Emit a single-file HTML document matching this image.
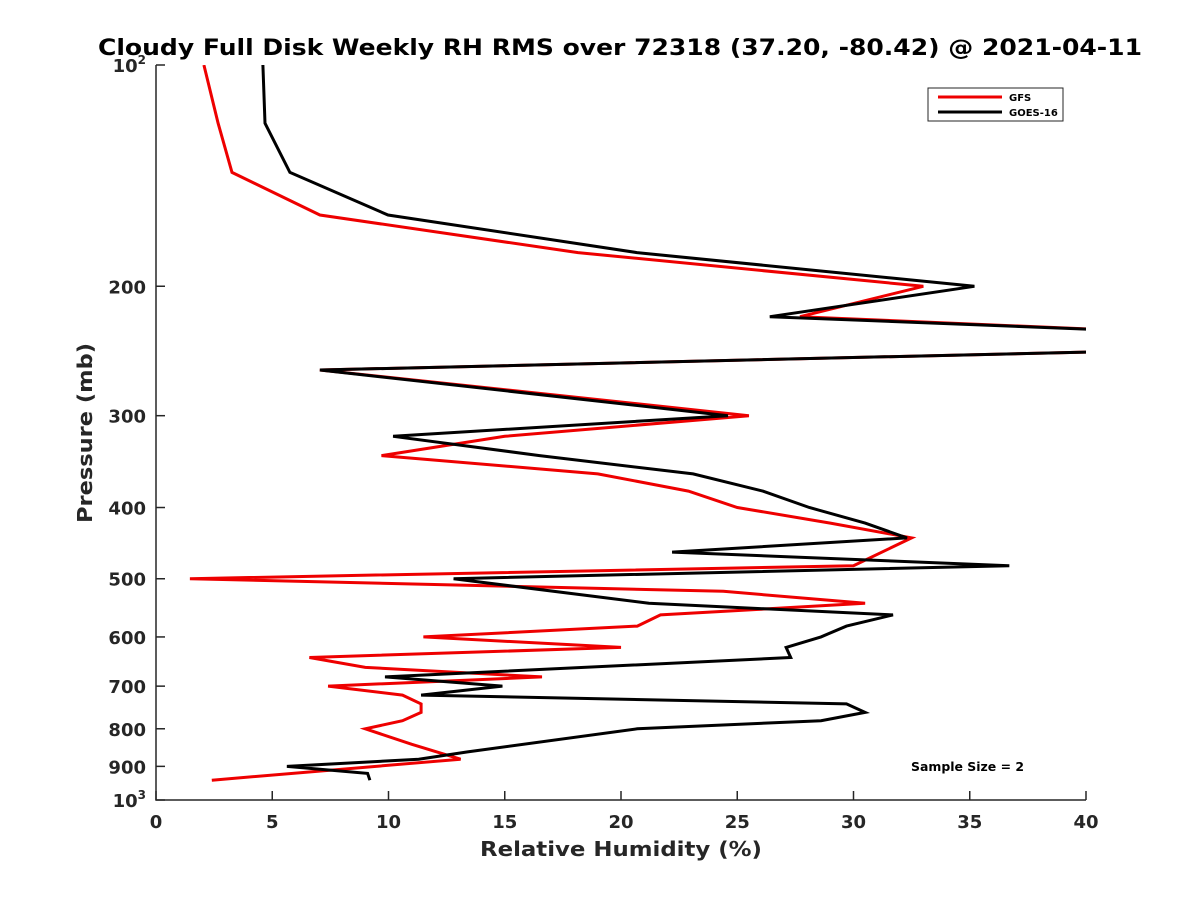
<!DOCTYPE html>
<html><head><meta charset="utf-8"><style>
body{margin:0;background:#fff}
svg{display:block;font-family:"DejaVu Sans","Liberation Sans",sans-serif}
</style></head><body>
<svg id="chart" width="1200" height="900">
<rect width="1200" height="900" fill="#fff"/>
<text x="98" y="55" textLength="1044" lengthAdjust="spacingAndGlyphs" font-size="22" font-weight="bold" fill="#000">Cloudy Full Disk Weekly RH RMS over 72318 (37.20, -80.42) @ 2021-04-11</text>
<defs><clipPath id="plotclip"><rect x="156" y="65" width="930" height="735"/></clipPath></defs>
<g id="grid"></g>
<g id="series" clip-path="url(#plotclip)"></g>
<text x="480" y="856" textLength="282" lengthAdjust="spacingAndGlyphs" font-size="20" font-weight="bold" fill="#262626">Relative Humidity (%)</text>
<text transform="translate(92,523) rotate(-90)" textLength="180" lengthAdjust="spacingAndGlyphs" font-size="20" font-weight="bold" fill="#262626">Pressure (mb)</text>
<g>
<rect x="928" y="88" width="135" height="33" fill="#fff" stroke="#262626" stroke-width="1"/>
<line x1="938" y1="97" x2="1002" y2="97" stroke="#e00" stroke-width="3"/>
<text x="1009" y="101" font-size="10" font-weight="bold" fill="#000">GFS</text>
<line x1="938" y1="112" x2="1002" y2="112" stroke="#000" stroke-width="3"/>
<text x="1009" y="116" font-size="10" font-weight="bold" fill="#000">GOES-16</text>
</g>
<text x="911" y="771" textLength="113" lengthAdjust="spacingAndGlyphs" font-size="12" font-weight="bold" fill="#000">Sample Size = 2</text>
</svg>
<script>
const xTicks=[0,5,10,15,20,25,30,35,40];
const yTicks=[100,200,300,400,500,600,700,800,900,1000];
const gfsP=[100,120,140,160,180,200,220,230,245,260,300,320,340,360,380,400,420,440,480,500,520,540,560,580,600,620,640,660,680,700,720,740,760,780,800,840,880,940];
const gfsRH=[2.06,2.67,3.27,7.05,18.15,33.0,27.7,42,42,7.05,25.5,15.0,9.7,19.0,22.9,25.0,29.0,32.5,30.0,1.46,24.4,30.5,21.7,20.7,11.5,20.0,6.6,9.0,16.6,7.4,10.6,11.4,11.4,10.6,9.0,11.0,13.1,2.4];
const goesP=[100,120,140,160,180,200,220,230,245,260,300,320,340,360,380,400,420,440,460,480,500,540,560,580,600,620,640,680,700,720,740,760,780,800,860,880,900,920,940];
const goesRH=[4.6,4.69,5.76,9.98,20.69,35.2,26.4,42,42,7.05,24.6,10.2,16.5,23.1,26.1,28.1,30.5,32.3,22.2,36.7,12.8,21.2,31.7,29.7,28.6,27.1,27.3,9.85,14.9,11.4,29.7,30.5,28.6,20.7,13.4,11.3,5.63,9.1,9.2];
const L=156,R=1086,T=65,B=800;
const xs=v=>L+(v-0)/40*(R-L);
const ys=p=>T+Math.log10(p/100)*(B-T);
const NS="http://www.w3.org/2000/svg";
function mk(tag,attrs,parent){const e=document.createElementNS(NS,tag);for(const k in attrs)e.setAttribute(k,attrs[k]);parent.appendChild(e);return e;}
const g=document.getElementById('grid');
const ax=mk('path',{d:`M${L},${T}V${B}H${R}`,fill:'none',stroke:'#262626','stroke-width':1.5},g);


xTicks.forEach(v=>{const x=xs(v);
 const t=mk('line',{x1:x,x2:x,y1:B,y2:B-9,stroke:'#262626','stroke-width':1.5},g);
 
 
 const l=mk('text',{x:x,y:B+28,'text-anchor':'middle','font-size':18,'font-weight':'bold',fill:'#262626'},g);
 l.textContent=v;
 
 
});
yTicks.forEach(p=>{const y=ys(p);
 const t=mk('line',{x1:L,x2:L+9,y1:y,y2:y,stroke:'#262626','stroke-width':1.5},g);
 
 
 const l=mk('text',{x:L-10,y:y+7,'text-anchor':'end','font-size':18,'font-weight':'bold',fill:'#262626'},g);
 if(p===100||p===1000){l.textContent='10';const s=mk('tspan',{dy:-8,'font-size':12},l);s.textContent=p===100?'2':'3';}
 else l.textContent=p;
 
 
});
const sg=document.getElementById('series');
function line(P,V,c,name){const pts=P.map((p,i)=>xs(V[i]).toFixed(1)+','+ys(p).toFixed(1)).join(' ');
 const e=mk('polyline',{points:pts,fill:'none',stroke:c,'stroke-width':3,'stroke-linejoin':'miter'},sg);
 
 }
line(gfsP,gfsRH,'#e00','gfs-line');
line(goesP,goesRH,'#000','goes16-line');
</script>
</body></html>
